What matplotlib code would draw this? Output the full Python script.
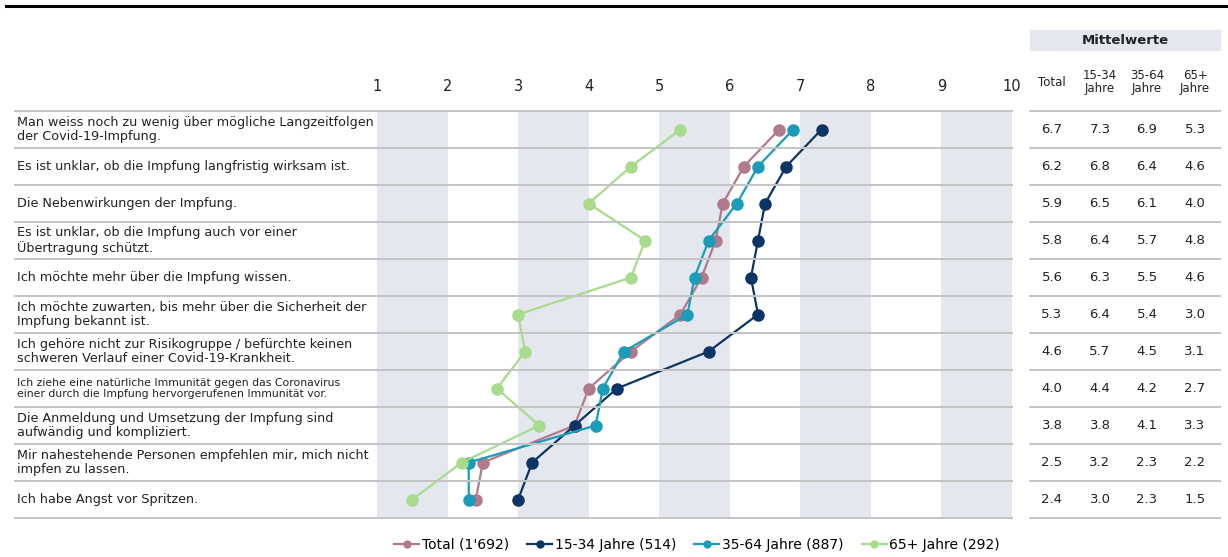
import matplotlib.pyplot as plt
import numpy as np

# Aussagen (Gründe gegen die Impfung), von oben nach unten
aussagen = [
    "Man weiss noch zu wenig über mögliche Langzeitfolgen\nder Covid-19-Impfung.",
    "Es ist unklar, ob die Impfung langfristig wirksam ist.",
    "Die Nebenwirkungen der Impfung.",
    "Es ist unklar, ob die Impfung auch vor einer\nÜbertragung schützt.",
    "Ich möchte mehr über die Impfung wissen.",
    "Ich möchte zuwarten, bis mehr über die Sicherheit der\nImpfung bekannt ist.",
    "Ich gehöre nicht zur Risikogruppe / befürchte keinen\nschweren Verlauf einer Covid-19-Krankheit.",
    "Ich ziehe eine natürliche Immunität gegen das Coronavirus\neiner durch die Impfung hervorgerufenen Immunität vor.",
    "Die Anmeldung und Umsetzung der Impfung sind\naufwändig und kompliziert.",
    "Mir nahestehende Personen empfehlen mir, mich nicht\nimpfen zu lassen.",
    "Ich habe Angst vor Spritzen.",
]

# Mittelwerte pro Gruppe
total = [6.7, 6.2, 5.9, 5.8, 5.6, 5.3, 4.6, 4.0, 3.8, 2.5, 2.4]
jahre_15_34 = [7.3, 6.8, 6.5, 6.4, 6.3, 6.4, 5.7, 4.4, 3.8, 3.2, 3.0]
jahre_35_64 = [6.9, 6.4, 6.1, 5.7, 5.5, 5.4, 4.5, 4.2, 4.1, 2.3, 2.3]
jahre_65 = [5.3, 4.6, 4.0, 4.8, 4.6, 3.0, 3.1, 2.7, 3.3, 2.2, 1.5]

serien = ["Total (1'692)", "15-34 Jahre (514)", "35-64 Jahre (887)", "65+ Jahre (292)"]
farben = ["#b07a8c", "#0c3566", "#1b9cb8", "#a8dc8c"]
spalten = ["Total", "15-34\nJahre", "35-64\nJahre", "65+\nJahre"]

W, H = 1228, 557
fig = plt.figure(figsize=(W / 100, H / 100), dpi=100)

def fx(px):
    return px / W

def fy(py):
    return 1 - py / H

top, bottom = 111, 518
n = len(aussagen)
ax = fig.add_axes([fx(377), fy(bottom), fx(1012) - fx(377), fy(top) - fy(bottom)])
ax.set_xlim(1, 10)
ax.set_ylim(n, 0)

# graue Bänder
for a in [1, 3, 5, 7, 9]:
    ax.axvspan(a, a + 1, color="#e4e8ee", zorder=0, lw=0)

y = np.arange(n) + 0.5
alle = [total, jahre_15_34, jahre_35_64, jahre_65]
reihenfolge = [3, 1, 0, 2]
for i in reihenfolge:
    ax.plot(alle[i], y, "-o", color=farben[i], lw=1.6, ms=8, zorder=3 + i)

for s in ax.spines.values():
    s.set_visible(False)
ax.set_xticks(range(1, 11))
ax.xaxis.tick_top()
ax.tick_params(axis="x", length=0, pad=12, labelsize=10.5, labelcolor="#222222")
ax.set_yticks([])

# Trennlinien über Text und Plot
row_h = (bottom - top) / n
for k in range(n + 1):
    py = top + k * row_h
    fig.add_artist(plt.Line2D([fx(15), fx(1012)], [fy(py), fy(py)],
                              color="#c4c4c4", lw=1.4, zorder=1))
    fig.add_artist(plt.Line2D([fx(1030), fx(1220)], [fy(py), fy(py)],
                              color="#c4c4c4", lw=1.4))

# Beschriftungen der Aussagen
for k, txt in enumerate(aussagen):
    py = top + (k + 0.5) * row_h
    size = 7.8 if k == 7 else 9.2
    fig.text(fx(17), fy(py), txt, ha="left", va="center", fontsize=size,
             color="#222222", linespacing=1.15)

# Tabelle Mittelwerte
col_x = [1052, 1100, 1147, 1195]
fig.patches.append(plt.Rectangle((fx(1030), fy(50)), fx(1220) - fx(1030), fy(30) - fy(50),
                                 transform=fig.transFigure, color="#e4e8ee", zorder=0))
fig.text(fx(1125), fy(40), "Mittelwerte", ha="center", va="center",
         fontsize=9.5, fontweight="bold", color="#222222")
for cx, sp in zip(col_x, spalten):
    fig.text(fx(cx), fy(82), sp, ha="center", va="center", fontsize=8.5,
             color="#222222", linespacing=1.0)
for k in range(n):
    py = top + (k + 0.5) * row_h
    for cx, werte in zip(col_x, alle):
        fig.text(fx(cx), fy(py), f"{werte[k]:.1f}", ha="center", va="center",
                 fontsize=9.5, color="#222222")

# Linie oben
fig.add_artist(plt.Line2D([fx(6), fx(1228)], [fy(6), fy(6)], color="black", lw=2.2))

# Legende
handles = [plt.Line2D([], [], color=farben[i], marker="o", ms=5, lw=1.6) for i in range(4)]
fig.legend(handles, serien, loc="center", bbox_to_anchor=(fx(697), fy(545)), ncol=4,
           frameon=False, fontsize=10, handlelength=1.8, handletextpad=0.2,
           columnspacing=1.3)

fig.savefig("out.png", dpi=100)
